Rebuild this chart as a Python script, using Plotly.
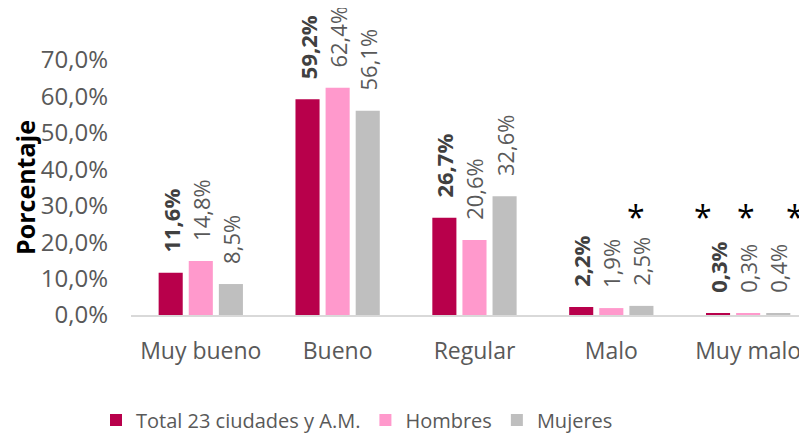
import plotly.graph_objects as go

categories = ["Muy bueno", "Bueno", "Regular", "Malo", "Muy malo"]
series_names = ["Total 23 ciudades y A.M.", "Hombres", "Mujeres"]
total = [11.6, 59.2, 26.7, 2.2, 0.3]
hombres = [14.8, 62.4, 20.6, 1.9, 0.3]
mujeres = [8.5, 56.1, 32.6, 2.5, 0.4]
y_ticks = [0, 10, 20, 30, 40, 50, 60, 70]
# asterisk marks: (category, series index)
asterisks = [("Malo", 2), ("Muy malo", 0), ("Muy malo", 1), ("Muy malo", 2)]

colors = ["#B8004B", "#FF99CC", "#BFBFBF"]
label_colors = ["#404040", "#595959", "#595959"]
weights = ["bold", "normal", "normal"]
FONT = "Open Sans"

# the page body adds an 8px offset, so the figure is 8px smaller on each side
W, H = 799, 425


def fmt(v):
    return "\u00a0\u00a0\u00a0" + f"{v:.1f}".replace(".", ",") + "%"


fig = go.Figure()
for i, (name, vals) in enumerate(zip(series_names, [total, hombres, mujeres])):
    fig.add_trace(go.Bar(
        x=categories, y=vals, name=name,
        marker=dict(color=colors[i], line=dict(width=0)),
        text=[fmt(v) for v in vals],
        textposition="outside", textangle=-90,
        textfont=dict(family=FONT, size=22, color=label_colors[i], weight=weights[i]),
        constraintext="none", cliponaxis=False,
        hoverinfo="skip",
    ))

shifts = {("Malo", 2): 25, ("Muy malo", 0): -45, ("Muy malo", 1): -2, ("Muy malo", 2): 47}
for cat, s in asterisks:
    fig.add_annotation(x=cat, y=28, text="*", showarrow=False,
                       xshift=shifts[(cat, s)], yshift=-3,
                       font=dict(family=FONT, size=32, color="#000000"))

fig.update_layout(
    width=W, height=H,
    margin=dict(l=123, r=0, t=52, b=118, autoexpand=False),
    paper_bgcolor="white", plot_bgcolor="white",
    barmode="group", bargap=0.34, bargroupgap=0.2,
    font=dict(family=FONT, color="#595959"),
    showlegend=True,
    legend=dict(orientation="h", x=88 / W, xanchor="left", xref="container",
                y=1 - 412 / H, yanchor="middle", yref="container",
                font=dict(family=FONT, size=20, color="#595959"),
                itemwidth=30),
    xaxis=dict(range=[-0.51, 4.43], showgrid=False, zeroline=False,
               showline=True, linecolor="#D9D9D9", linewidth=2, automargin=False,
               ticks="", tickfont=dict(family=FONT, size=23, color="#595959"),
               ticklabelstandoff=14),
    yaxis=dict(range=[0, 70], tickvals=y_ticks, automargin=False,
               ticktext=[f"{t:.1f}".replace(".", ",") + "%" for t in y_ticks],
               showgrid=False, zeroline=False, showline=False, ticks="",
               tickfont=dict(family=FONT, size=24, color="#595959"),
               ticklabelstandoff=22,
               title=dict(text="Porcentaje", standoff=4,
                          font=dict(family=FONT, size=25, color="#000000", weight="bold"))),
)

fig.write_html("out.html")
